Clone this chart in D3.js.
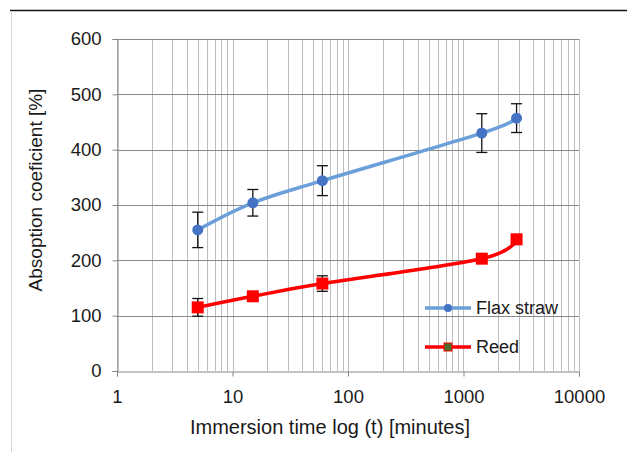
<!DOCTYPE html>
<html>
<head>
<meta charset="utf-8">
<script src="https://cdn.jsdelivr.net/npm/d3@7"></script>
<style>
  html, body { margin: 0; padding: 0; background: #fff; }
  svg { display: block; font-family: "Liberation Sans", Arial, sans-serif; }
</style>
</head>
<body>
<div id="chart"></div>
<script>
// data
const times = [5, 15, 60, 1440, 2880];           // minutes
const flax = [255, 304, 344, 430, 457];
const flaxErr = [32, 24, 27, 35, 26];
const reed = [115, 135, 158, 203, 238];
const reedErr = [16, 4, 14, 5, 6];
const xTicks = [1, 10, 100, 1000, 10000];
const yTicks = [0, 100, 200, 300, 400, 500, 600];
const seriesNames = ["Flax straw", "Reed"];

const width = 627, height = 452;
const margin = {top: 39, right: 48, bottom: 81, left: 117};

const svg = d3.select("#chart").append("svg")
  .attr("width", width)
  .attr("height", height);

// outer chart frame (top black line, faint left edge)
svg.append("line")
  .attr("x1", 10).attr("x2", width).attr("y1", 10.5).attr("y2", 10.5)
  .attr("stroke", "#111").attr("stroke-width", 1.6);
svg.append("line")
  .attr("x1", 11.5).attr("x2", 11.5).attr("y1", 11).attr("y2", height)
  .attr("stroke", "#d4d4d4").attr("stroke-width", 1);

const x = d3.scaleLog([1, 10000], [margin.left, width - margin.right]);
const y = d3.scaleLinear([0, 600], [height - margin.bottom, margin.top]);

// minor vertical grid: 1..9 in every decade
const vGrid = [];
for (let p = 0; p < 4; p++) for (let k = 1; k <= 9; k++) vGrid.push(k * 10 ** p);
vGrid.push(10000);

svg.append("g")
  .selectAll("line")
  .data(vGrid)
  .join("line")
  .attr("x1", d => Math.round(x(d)) + 0.5)
  .attr("x2", d => Math.round(x(d)) + 0.5)
  .attr("y1", y(600))
  .attr("y2", y(0))
  .attr("stroke", "#bdbdbd")
  .attr("stroke-width", 1);

// horizontal grid
svg.append("g")
  .selectAll("line")
  .data(yTicks.slice(1))
  .join("line")
  .attr("x1", x(1))
  .attr("x2", x(10000))
  .attr("y1", d => Math.round(y(d)) + 0.5)
  .attr("y2", d => Math.round(y(d)) + 0.5)
  .attr("stroke", "#8a8a8a")
  .attr("stroke-width", 1);

// y axis
svg.append("g")
  .attr("transform", `translate(${Math.round(x(1)) + 0.5},0)`)
  .call(d3.axisLeft(y).tickValues(yTicks).tickSize(5).tickPadding(11))
  .call(g => g.select(".domain").attr("stroke", "#868686"))
  .call(g => g.selectAll(".tick line").attr("stroke", "#868686"))
  .call(g => g.selectAll(".tick text")
    .attr("font-size", 18.5)
    .attr("fill", "#1a1a1a"));

// x axis
svg.append("g")
  .attr("transform", `translate(0,${Math.round(y(0)) + 0.5})`)
  .call(d3.axisBottom(x).tickValues(xTicks).tickFormat(d3.format("d")).tickSize(5).tickPadding(13))
  .call(g => g.select(".domain").attr("stroke", "#868686"))
  .call(g => g.selectAll(".tick line").attr("stroke", "#868686"))
  .call(g => g.selectAll(".tick text")
    .attr("font-size", 18.5)
    .attr("fill", "#1a1a1a"));

// axis titles
svg.append("text")
  .attr("x", 330)
  .attr("y", 434)
  .attr("text-anchor", "middle")
  .attr("font-size", 20)
  .attr("fill", "#1a1a1a")
  .text("Immersion time log (t) [minutes]");

svg.append("text")
  .attr("transform", "translate(42,190) rotate(-90)")
  .attr("text-anchor", "middle")
  .attr("font-size", 19)
  .attr("fill", "#1a1a1a")
  .text("Absoption coeficient [%]");

const flaxColor = "#6a9fd9", flaxMarker = "#4574c4", reedColor = "#ff0000";

const line = d3.line()
  .x(d => x(d[0]))
  .y(d => y(d[1]))
  .curve(d3.curveCatmullRom.alpha(0));

// error bars
function errorBars(vals, errs) {
  const g = svg.append("g").attr("stroke", "#111").attr("stroke-width", 1.3);
  times.forEach((t, i) => {
    const cx = x(t);
    g.append("line").attr("x1", cx).attr("x2", cx)
      .attr("y1", y(vals[i] - errs[i])).attr("y2", y(vals[i] + errs[i]));
    [vals[i] - errs[i], vals[i] + errs[i]].forEach(v => {
      g.append("line").attr("x1", cx - 5.5).attr("x2", cx + 5.5)
        .attr("y1", y(v)).attr("y2", y(v));
    });
  });
}

// Flax straw
svg.append("path")
  .datum(times.map((t, i) => [t, flax[i]]))
  .attr("fill", "none")
  .attr("stroke", flaxColor)
  .attr("stroke-width", 3.5)
  .attr("d", line);
errorBars(flax, flaxErr);
svg.append("g")
  .selectAll("circle")
  .data(times)
  .join("circle")
  .attr("cx", d => x(d))
  .attr("cy", (d, i) => y(flax[i]))
  .attr("r", 5.5)
  .attr("fill", flaxMarker);

// Reed
svg.append("path")
  .datum(times.map((t, i) => [t, reed[i]]))
  .attr("fill", "none")
  .attr("stroke", reedColor)
  .attr("stroke-width", 3.5)
  .attr("d", line);
errorBars(reed, reedErr);
svg.append("g")
  .selectAll("rect")
  .data(times)
  .join("rect")
  .attr("x", d => x(d) - 6)
  .attr("y", (d, i) => y(reed[i]) - 6)
  .attr("width", 12)
  .attr("height", 12)
  .attr("fill", reedColor);

// legend
const legend = svg.append("g").attr("transform", "translate(425,308)");
seriesNames.forEach((name, i) => {
  const g = legend.append("g").attr("transform", `translate(0,${i * 39})`);
  g.append("line").attr("x1", 0).attr("x2", 46).attr("y1", 0).attr("y2", 0)
    .attr("stroke", i === 0 ? flaxColor : reedColor).attr("stroke-width", 3.5);
  if (i === 0) {
    g.append("circle").attr("cx", 23).attr("cy", 0).attr("r", 4).attr("fill", flaxMarker);
  } else {
    g.append("rect").attr("x", 19).attr("y", -4).attr("width", 8).attr("height", 8)
      .attr("fill", "#4d6b2a").attr("stroke", reedColor).attr("stroke-width", 1);
  }
  g.append("text")
    .attr("x", 51)
    .attr("y", 0)
    .attr("dy", "0.35em")
    .attr("font-size", 18)
    .attr("fill", "#1a1a1a")
    .text(name);
});
</script>
</body>
</html>
